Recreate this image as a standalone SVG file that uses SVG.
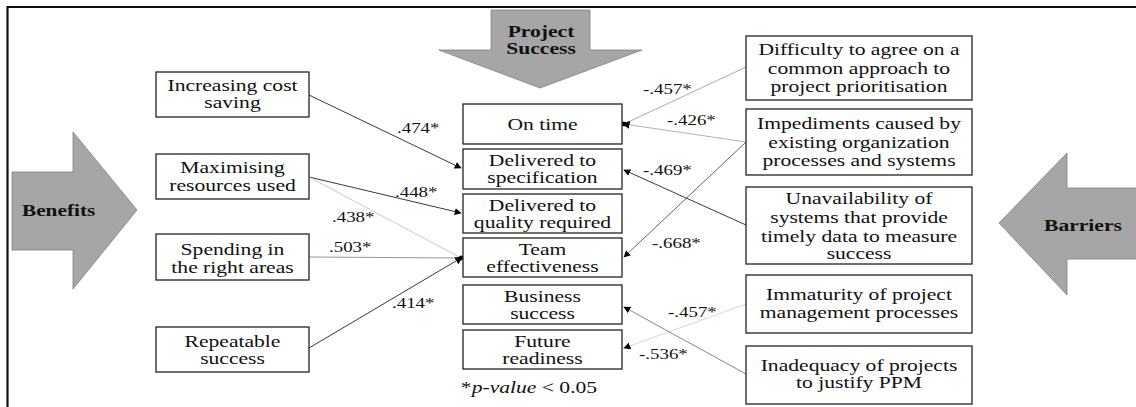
<svg xmlns="http://www.w3.org/2000/svg" width="1136" height="407" viewBox="0 0 1136 407">
<style>
.box{fill:#fff;stroke:#222;stroke-width:1.3}
.t{font-family:"Liberation Serif","Times New Roman",serif;font-size:16px;fill:#111;text-anchor:middle}
.b{font-family:"Liberation Serif","Times New Roman",serif;font-size:16px;font-weight:bold;fill:#111}
.lab{font-family:"Liberation Serif","Times New Roman",serif;font-size:14px;fill:#111}
.big{fill:#a6a6a6;stroke:#808080;stroke-width:0.8}
.c{fill:none;stroke-width:0.9}
</style>
<defs>
<marker id="ah" viewBox="0 0 10 10" refX="9" refY="5" markerWidth="7" markerHeight="7" markerUnits="userSpaceOnUse" orient="auto">
<path d="M0,0 L10,5 L0,10 z" fill="#000"/>
</marker>
<marker id="dot" viewBox="0 0 10 10" refX="7" refY="5" markerWidth="8" markerHeight="8" markerUnits="userSpaceOnUse" orient="auto">
<path d="M0,0 L10,5 L0,10 z" fill="#000"/>
<circle cx="7" cy="5" r="3" fill="#000"/>
</marker>
</defs>
<g id="frame">
<line x1="7" y1="7" x2="1136" y2="7" stroke="#111" stroke-width="2"/>
<line x1="7.5" y1="6" x2="7.5" y2="407" stroke="#111" stroke-width="2.2"/>
</g>
<g id="benefits">
<polygon class="big" points="12,172 73,172 73,132 137,210 73,289 73,250 12,250"/>
<text class="b" transform="matrix(1.33 0 0 1 22 0)" x="0" y="216">Benefits</text>
</g>
<g id="project-success">
<polygon class="big" points="491,10 590,10 590,50 642,50 540,88 439,50 491,50"/>
<text class="b" transform="matrix(1.35 0 0 1 541 0)" x="0" y="37" text-anchor="middle">Project</text>
<text class="b" transform="matrix(1.35 0 0 1 541 0)" x="0" y="54" text-anchor="middle">Success</text>
</g>
<g id="barriers">
<polygon class="big" points="1137,188 1067,188 1067,153 999,223 1067,295 1067,259 1137,259"/>
<text class="b" transform="matrix(1.35 0 0 1 1044 0)" x="0" y="231">Barriers</text>
</g>
<g id="connectors">
<line class="c" stroke="#222" x1="309" y1="95" x2="461" y2="168" marker-end="url(#ah)"/>
<line class="c" stroke="#222" x1="309" y1="177" x2="461" y2="213" marker-end="url(#ah)"/>
<line class="c" stroke="#c4c4c4" x1="309" y1="177" x2="461" y2="258"/>
<line class="c" stroke="#8a8a8a" stroke-width="1.2" x1="309" y1="257" x2="461" y2="258"/>
<line class="c" stroke="#222" x1="309" y1="348" x2="461" y2="258" marker-end="url(#dot)"/>
<line class="c" stroke="#a0a0a0" x1="746" y1="67" x2="624" y2="124"/>
<line class="c" stroke="#a8a8a8" x1="746" y1="142" x2="624" y2="124" marker-end="url(#dot)"/>
<line class="c" stroke="#555" x1="746" y1="142" x2="624" y2="257" marker-end="url(#ah)"/>
<line class="c" stroke="#222" x1="746" y1="225" x2="624" y2="170" marker-end="url(#ah)"/>
<line class="c" stroke="#d2d2d2" x1="746" y1="304" x2="624" y2="348" marker-end="url(#ah)"/>
<line class="c" stroke="#777" x1="746" y1="374" x2="624" y2="307" marker-end="url(#ah)"/>
<text class="lab" transform="matrix(1.35 0 0 1 397 0)" x="0" y="133">.474*</text>
<text class="lab" transform="matrix(1.35 0 0 1 395 0)" x="0" y="197">.448*</text>
<text class="lab" transform="matrix(1.35 0 0 1 332 0)" x="0" y="222">.438*</text>
<text class="lab" transform="matrix(1.35 0 0 1 329 0)" x="0" y="252">.503*</text>
<text class="lab" transform="matrix(1.35 0 0 1 392 0)" x="0" y="308">.414*</text>
<text class="lab" transform="matrix(1.35 0 0 1 643 0)" x="0" y="94">-.457*</text>
<text class="lab" transform="matrix(1.35 0 0 1 667 0)" x="0" y="125">-.426*</text>
<text class="lab" transform="matrix(1.35 0 0 1 643 0)" x="0" y="175">-.469*</text>
<text class="lab" transform="matrix(1.35 0 0 1 652 0)" x="0" y="248">-.668*</text>
<text class="lab" transform="matrix(1.35 0 0 1 668 0)" x="0" y="317">-.457*</text>
<text class="lab" transform="matrix(1.35 0 0 1 639 0)" x="0" y="359">-.536*</text>
</g>
<g id="n-cost">
<rect class="box" x="156" y="72" width="153" height="45"/>
<text class="t" transform="matrix(1.35 0 0 1 232.5 0)" x="0" y="91">Increasing cost</text>
<text class="t" transform="matrix(1.35 0 0 1 232.5 0)" x="0" y="108">saving</text>
</g>
<g id="n-max">
<rect class="box" x="156" y="154" width="153" height="45"/>
<text class="t" transform="matrix(1.35 0 0 1 232.5 0)" x="0" y="173">Maximising</text>
<text class="t" transform="matrix(1.35 0 0 1 232.5 0)" x="0" y="191">resources used</text>
</g>
<g id="n-spend">
<rect class="box" x="156" y="234" width="153" height="46"/>
<text class="t" transform="matrix(1.35 0 0 1 232.5 0)" x="0" y="255">Spending in</text>
<text class="t" transform="matrix(1.35 0 0 1 232.5 0)" x="0" y="273">the right areas</text>
</g>
<g id="n-repeat">
<rect class="box" x="156" y="327" width="153" height="45"/>
<text class="t" transform="matrix(1.35 0 0 1 232.5 0)" x="0" y="347">Repeatable</text>
<text class="t" transform="matrix(1.35 0 0 1 232.5 0)" x="0" y="364">success</text>
</g>
<g id="n-ontime">
<rect class="box" x="463" y="104" width="159" height="40"/>
<text class="t" transform="matrix(1.35 0 0 1 542.5 0)" x="0" y="130">On time</text>
</g>
<g id="n-spec">
<rect class="box" x="463" y="149" width="159" height="40"/>
<text class="t" transform="matrix(1.35 0 0 1 542.5 0)" x="0" y="166">Delivered to</text>
<text class="t" transform="matrix(1.35 0 0 1 542.5 0)" x="0" y="183">specification</text>
</g>
<g id="n-quality">
<rect class="box" x="463" y="194" width="159" height="39"/>
<text class="t" transform="matrix(1.35 0 0 1 542.5 0)" x="0" y="211">Delivered to</text>
<text class="t" transform="matrix(1.35 0 0 1 542.5 0)" x="0" y="228">quality required</text>
</g>
<g id="n-team">
<rect class="box" x="463" y="238" width="159" height="39"/>
<text class="t" transform="matrix(1.35 0 0 1 542.5 0)" x="0" y="255">Team</text>
<text class="t" transform="matrix(1.35 0 0 1 542.5 0)" x="0" y="272">effectiveness</text>
</g>
<g id="n-business">
<rect class="box" x="463" y="285" width="159" height="39"/>
<text class="t" transform="matrix(1.35 0 0 1 542.5 0)" x="0" y="302">Business</text>
<text class="t" transform="matrix(1.35 0 0 1 542.5 0)" x="0" y="319">success</text>
</g>
<g id="n-future">
<rect class="box" x="463" y="330" width="159" height="39"/>
<text class="t" transform="matrix(1.35 0 0 1 542.5 0)" x="0" y="347">Future</text>
<text class="t" transform="matrix(1.35 0 0 1 542.5 0)" x="0" y="364">readiness</text>
</g>
<g id="note">
<text class="t" transform="matrix(1.35 0 0 1 529 0)" x="0" y="393">*<tspan font-style="italic">p-value</tspan> &lt; 0.05</text>
</g>
<g id="n-difficulty">
<rect class="box" x="746" y="36" width="226" height="64"/>
<text class="t" transform="matrix(1.35 0 0 1 859 0)" x="0" y="55">Difficulty to agree on a</text>
<text class="t" transform="matrix(1.35 0 0 1 859 0)" x="0" y="74">common approach to</text>
<text class="t" transform="matrix(1.35 0 0 1 859 0)" x="0" y="92">project prioritisation</text>
</g>
<g id="n-impediments">
<rect class="box" x="746" y="109" width="226" height="66"/>
<text class="t" transform="matrix(1.35 0 0 1 859 0)" x="0" y="129">Impediments caused by</text>
<text class="t" transform="matrix(1.35 0 0 1 859 0)" x="0" y="148">existing organization</text>
<text class="t" transform="matrix(1.35 0 0 1 859 0)" x="0" y="166">processes and systems</text>
</g>
<g id="n-unavailability">
<rect class="box" x="746" y="187" width="226" height="77"/>
<text class="t" transform="matrix(1.35 0 0 1 859 0)" x="0" y="204">Unavailability of</text>
<text class="t" transform="matrix(1.35 0 0 1 859 0)" x="0" y="223">systems that provide</text>
<text class="t" transform="matrix(1.35 0 0 1 859 0)" x="0" y="242">timely data to measure</text>
<text class="t" transform="matrix(1.35 0 0 1 859 0)" x="0" y="259">success</text>
</g>
<g id="n-immaturity">
<rect class="box" x="746" y="275" width="226" height="58"/>
<text class="t" transform="matrix(1.35 0 0 1 859 0)" x="0" y="300">Immaturity of project</text>
<text class="t" transform="matrix(1.35 0 0 1 859 0)" x="0" y="318">management processes</text>
</g>
<g id="n-inadequacy">
<rect class="box" x="746" y="346" width="226" height="58"/>
<text class="t" transform="matrix(1.35 0 0 1 859 0)" x="0" y="371">Inadequacy of projects</text>
<text class="t" transform="matrix(1.35 0 0 1 859 0)" x="0" y="388">to justify PPM</text>
</g>
</svg>
